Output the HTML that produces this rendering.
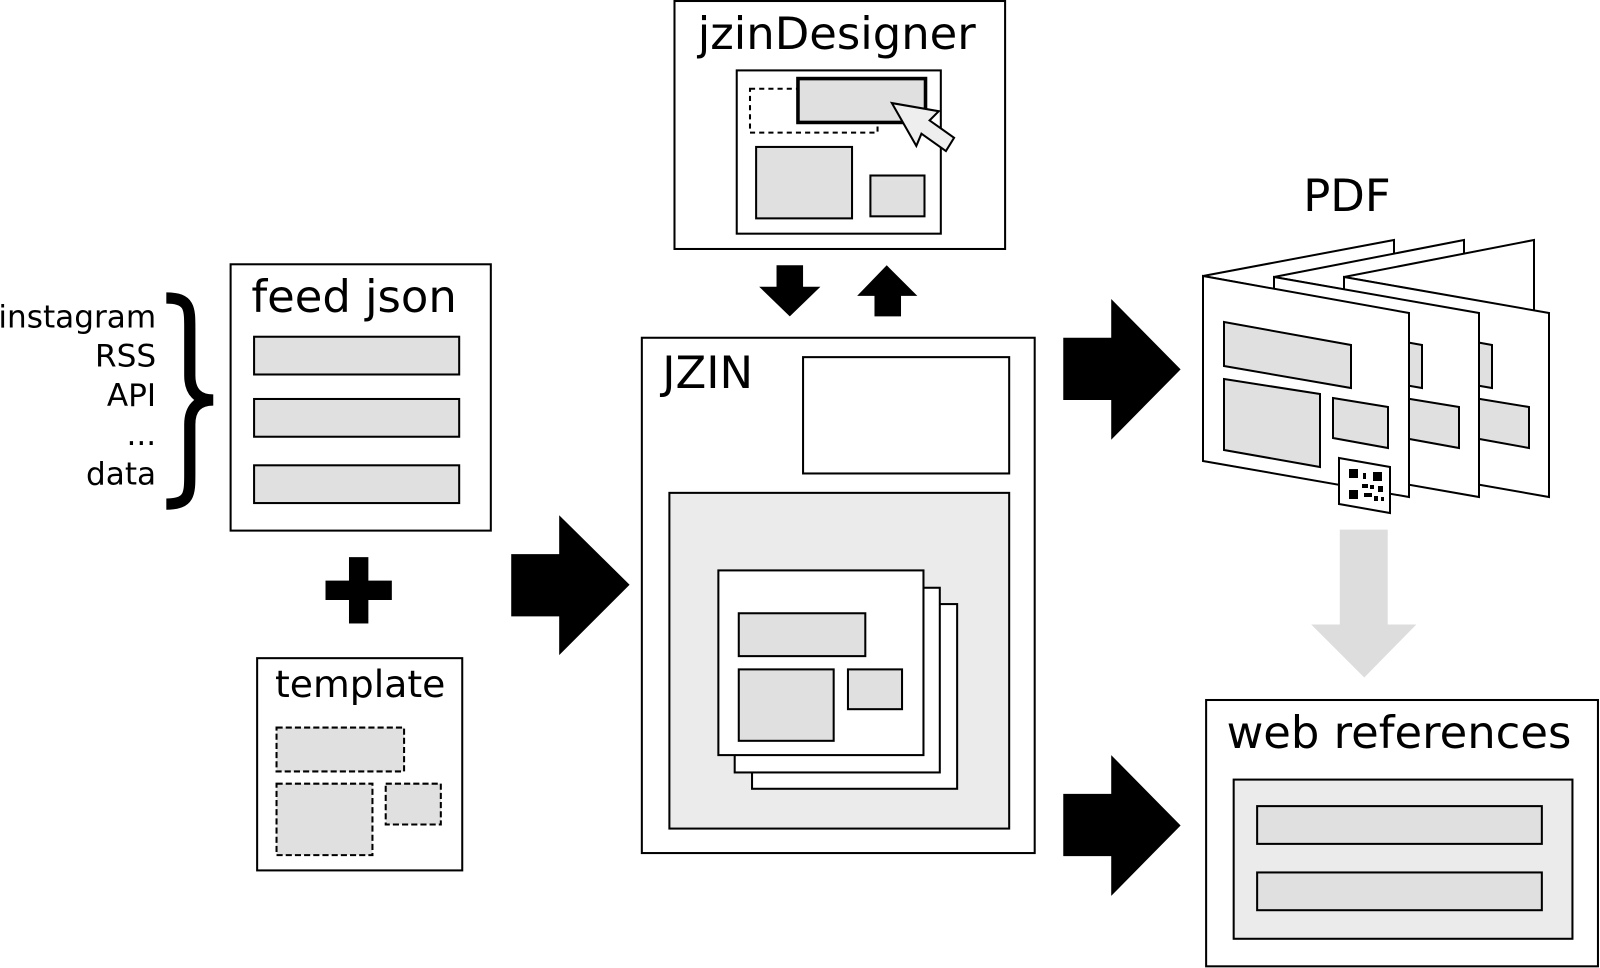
<!DOCTYPE html>
<html><head><meta charset="utf-8"><style>html,body{margin:0;padding:0;background:#fff}svg{display:block}text{font-family:"DejaVu Sans","Liberation Sans",sans-serif;fill:#000}</style></head><body>
<svg width="1600" height="968" viewBox="0 0 1568 948.64" xmlns="http://www.w3.org/2000/svg">
<g stroke="#000" stroke-width="2" fill="#fff">
<rect x="661" y="1" width="324" height="243"/>
<rect x="722" y="69" width="200" height="160"/>
<rect x="735" y="87" width="125" height="43" stroke-dasharray="5,4" fill="none"/>
<rect x="782" y="77" width="125" height="43" fill="#e0e0e0" stroke-width="3.5"/>
<rect x="741" y="144" width="94" height="70" fill="#e0e0e0"/>
<rect x="853" y="172" width="53" height="40" fill="#e0e0e0"/>
<polygon points="874,101 920,109 911,118 935,135 927,148 903,131 898,143" fill="#eee"/>
<rect x="226" y="259" width="255" height="261"/>
<rect x="249" y="330" width="201" height="37" fill="#e0e0e0"/>
<rect x="249" y="391" width="201" height="37" fill="#e0e0e0"/>
<rect x="249" y="456" width="201" height="37" fill="#e0e0e0"/>
<rect x="252" y="645" width="201" height="208"/>
<g stroke-dasharray="6,3" fill="#e0e0e0">
<rect x="271" y="713" width="125" height="43"/>
<rect x="271" y="768" width="94" height="70"/>
<rect x="378" y="768" width="54" height="40"/>
</g>
<rect x="629" y="331" width="385" height="505"/>
<rect x="787" y="350" width="202" height="114"/>
<rect x="656" y="483" width="333" height="329" fill="#ebebeb"/>
<rect x="737" y="592" width="201" height="181"/>
<rect x="720" y="576" width="201" height="181"/>
<rect x="704" y="559" width="201" height="181"/>
<rect x="724" y="601" width="124" height="42" fill="#e0e0e0"/>
<rect x="724" y="656" width="93" height="70" fill="#e0e0e0"/>
<rect x="831" y="656" width="53" height="39" fill="#e0e0e0"/>
<rect x="1182" y="686" width="384" height="261"/>
<rect x="1209" y="764" width="332" height="156" fill="#ebebeb"/>
<rect x="1232" y="790" width="279" height="37" fill="#e0e0e0"/>
<rect x="1232" y="855" width="279" height="37" fill="#e0e0e0"/>
</g>
<g fill="#000">
<polygon points="761,260 787,260 787,281 804,281 774,310 744,281 761,281"/>
<polygon points="869,260 899,290 883,290 883,310 857,310 857,290 840,290"/>
<rect x="342" y="546" width="19" height="65"/>
<rect x="319" y="569" width="65" height="19"/>
<polygon points="501,543 548,543 548,505 617,573 548,642 548,604 501,604"/>
<polygon points="1042,331 1089,331 1089,293 1157,362 1089,431 1089,392 1042,392"/>
<polygon points="1042,778 1089,778 1089,740 1157,809 1089,878 1089,839 1042,839"/>
</g>
<polygon points="1313,519 1360,519 1360,612 1388,612 1337,664 1285,612 1313,612" fill="#ddd"/>
<path d="M163,292 C186,292 186,302 186,322 L186,368 C186,384 194,392 209,392 C194,392 186,400 186,416 L186,464 C186,484 186,494 163,494" stroke="#000" stroke-width="11" fill="none"/>
<text x="820" y="48" font-size="44" text-anchor="middle">jzinDesigner</text>
<text x="347" y="306" font-size="44" text-anchor="middle">feed json</text>
<text x="353" y="683" font-size="37" text-anchor="middle">template</text>
<text x="649" y="380" font-size="44">JZIN</text>
<text x="1320" y="207" font-size="44" text-anchor="middle">PDF</text>
<text x="1371" y="733" font-size="44" text-anchor="middle">web references</text>
<g font-size="30.5" text-anchor="end">
<text x="153" y="321">instagram</text>
<text x="153" y="359">RSS</text>
<text x="153" y="398">API</text>
<text x="153" y="436">...</text>
<text x="153" y="475">data</text>
</g>
<g transform="scale(0.98)" stroke="#000" stroke-width="2" fill="#fff">
<polygon points="1203,276 1394,240 1394,311"/>
<polygon points="1274,277 1464,240 1464,311"/>
<polygon points="1344,277 1534,240 1534,311"/>
<g>
<polygon points="1344,277 1549,313 1549,497 1344,461"/>
<polygon points="1365,322 1492,345 1492,388 1365,366" fill="#e0e0e0"/>
<polygon points="1365,379 1461,394 1461,467 1365,450" fill="#e0e0e0"/>
<polygon points="1474,398 1529,407 1529,448 1474,438" fill="#e0e0e0"/>
</g>
<g>
<polygon points="1274,277 1479,313 1479,497 1274,461"/>
<polygon points="1295,322 1422,345 1422,388 1295,366" fill="#e0e0e0"/>
<polygon points="1295,379 1391,394 1391,467 1295,450" fill="#e0e0e0"/>
<polygon points="1404,398 1459,407 1459,448 1404,438" fill="#e0e0e0"/>
</g>
<g>
<polygon points="1203,276 1409,313 1409,497 1203,461"/>
<polygon points="1224,322 1351,345 1351,388 1224,366" fill="#e0e0e0"/>
<polygon points="1224,379 1320,394 1320,467 1224,450" fill="#e0e0e0"/>
<polygon points="1333,398 1388,407 1388,448 1333,438" fill="#e0e0e0"/>
<polygon points="1339,458 1390,467 1390,513 1339,504"/>
</g>
<g fill="#000" stroke="none">
<rect x="1349" y="469" width="9" height="9"/>
<rect x="1373" y="472" width="9" height="9"/>
<rect x="1349" y="490" width="9" height="9"/>
<rect x="1363" y="473" width="3" height="6"/>
<rect x="1362" y="484" width="6" height="4"/>
<rect x="1370" y="485" width="4" height="4"/>
<rect x="1378" y="486" width="5" height="6"/>
<rect x="1364" y="493" width="8" height="4"/>
<rect x="1374" y="496" width="4" height="5"/>
<rect x="1381" y="497" width="3" height="4"/>
</g>
</g>
</svg>
</body></html>
